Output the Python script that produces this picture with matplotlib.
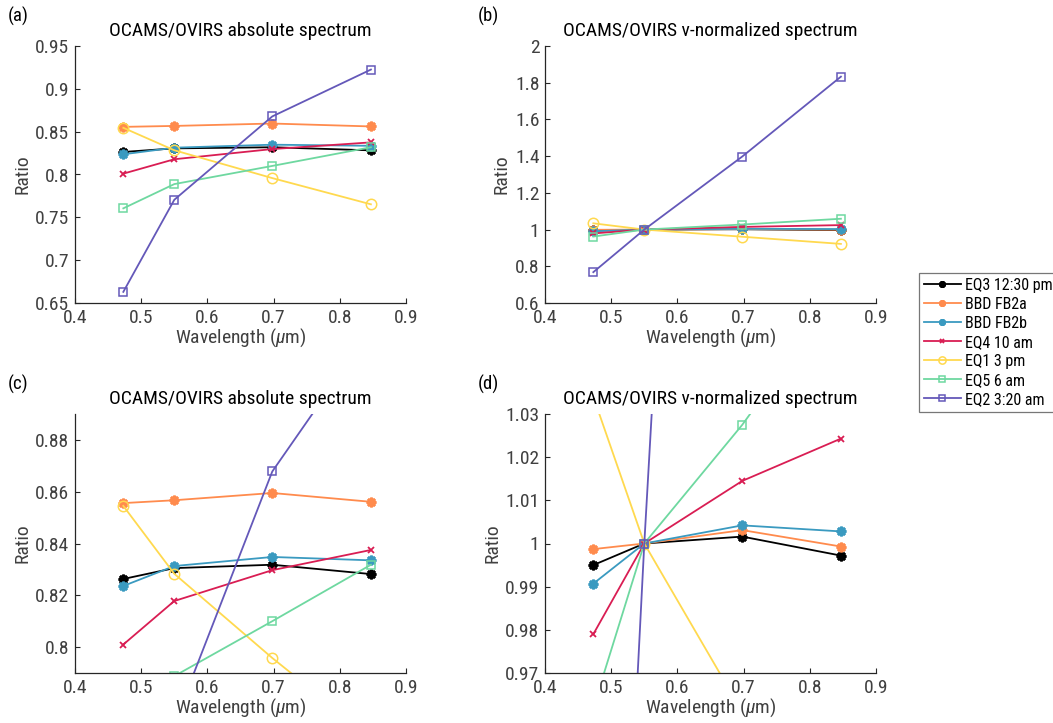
import matplotlib
matplotlib.use("Agg")
import matplotlib.pyplot as plt
from matplotlib import font_manager

# Narrow sans family for all text, with fallbacks
available = set(font_manager.get_font_names())
family = [f for f in ["Roboto Condensed", "Archivo Narrow", "Liberation Sans Narrow", "Roboto"]
          if f in available] + ["DejaVu Sans"]
plt.rcParams["font.family"] = family
plt.rcParams["mathtext.fontset"] = "custom"
plt.rcParams["mathtext.it"] = family[0] + ":italic"
plt.rcParams["mathtext.rm"] = family[0]

# MapCam filter centre wavelengths (um)
wavelength = [0.473, 0.550, 0.698, 0.847]

series_names = ["EQ3 12:30 pm", "BBD FB2a", "BBD FB2b", "EQ4 10 am",
                "EQ1 3 pm", "EQ5 6 am", "EQ2 3:20 am"]

# OCAMS/OVIRS absolute ratio
abs_eq3 = [0.8263, 0.8305, 0.8318, 0.8282]
abs_fb2a = [0.8556, 0.8567, 0.8595, 0.8561]
abs_fb2b = [0.8236, 0.8313, 0.8348, 0.8335]
abs_eq4 = [0.8010, 0.8178, 0.8297, 0.8375]
abs_eq1 = [0.8545, 0.8283, 0.7958, 0.7652]
abs_eq5 = [0.7605, 0.7888, 0.8100, 0.8318]
abs_eq2 = [0.6630, 0.7705, 0.8678, 0.9225]

# OCAMS/OVIRS ratio normalized at v band
norm_eq3 = [0.9950, 1.0, 1.0016, 0.9972]
norm_fb2a = [0.9987, 1.0, 1.0031, 0.9993]
norm_fb2b = [0.9907, 1.0, 1.0042, 1.0028]
norm_eq4 = [0.9790, 1.0, 1.0145, 1.0243]
norm_eq1 = [1.0340, 1.0, 0.9610, 0.9220]
norm_eq5 = [0.9620, 1.0, 1.0275, 1.0590]
norm_eq2 = [0.7680, 1.0, 1.3980, 1.8330]

abs_data = [abs_eq3, abs_fb2a, abs_fb2b, abs_eq4, abs_eq1, abs_eq5, abs_eq2]
norm_data = [norm_eq3, norm_fb2a, norm_fb2b, norm_eq4, norm_eq1, norm_eq5, norm_eq2]

colors = ["#000000", "#FF8B4D", "#3A9AC0", "#D91D53", "#FFD94F", "#6ED8A0", "#6458B9"]
asterisk = (8, 2, 0)
styles = [
    dict(marker=asterisk, ms=7, mew=1.9, mfc="none"),
    dict(marker=asterisk, ms=7, mew=1.9, mfc="none"),
    dict(marker=asterisk, ms=7, mew=1.9, mfc="none"),
    dict(marker="x", ms=5, mew=1.3, mfc="none"),
    dict(marker="o", ms=7.5, mew=1.1, mfc="none"),
    dict(marker="s", ms=6, mew=1.1, mfc="none"),
    dict(marker="s", ms=6, mew=1.1, mfc="none"),
]

W, H = 1053, 723
fig = plt.figure(figsize=(W / 100, H / 100), dpi=100)


def add_axes(left, top, right, bottom):
    return fig.add_axes([left / W, 1 - bottom / H, (right - left) / W, (bottom - top) / H])


axis_color = "#262626"
tick_color = "#404040"

panels = [
    ("(a)", "OCAMS/OVIRS absolute spectrum", abs_data, (0.65, 0.95), [0.65, 0.7, 0.75, 0.8, 0.85, 0.9, 0.95],
     ["0.65", "0.7", "0.75", "0.8", "0.85", "0.9", "0.95"], (75, 46, 406, 303)),
    ("(b)", "OCAMS/OVIRS v-normalized spectrum", norm_data, (0.6, 2.0), [0.6, 0.8, 1.0, 1.2, 1.4, 1.6, 1.8, 2.0],
     ["0.6", "0.8", "1", "1.2", "1.4", "1.6", "1.8", "2"], (545, 46, 876, 303)),
    ("(c)", "OCAMS/OVIRS absolute spectrum", abs_data, (0.79, 0.89), [0.8, 0.82, 0.84, 0.86, 0.88],
     ["0.8", "0.82", "0.84", "0.86", "0.88"], (75, 414, 406, 673)),
    ("(d)", "OCAMS/OVIRS v-normalized spectrum", norm_data, (0.97, 1.03), [0.97, 0.98, 0.99, 1.0, 1.01, 1.02, 1.03],
     ["0.97", "0.98", "0.99", "1", "1.01", "1.02", "1.03"], (545, 414, 876, 673)),
]

handles = []
for label, title, data, ylim, yticks, yticklabels, box in panels:
    ax = add_axes(*box)
    for vals, col, st, name in zip(data, colors, styles, series_names):
        ln, = ax.plot(wavelength, vals, color=col, lw=1.3, mec=col, label=name, **st)
        if label == "(a)":
            handles.append(ln)
    ax.set_xlim(0.4, 0.9)
    ax.set_ylim(*ylim)
    ax.set_xticks([0.4, 0.5, 0.6, 0.7, 0.8, 0.9])
    ax.set_xticklabels(["0.4", "0.5", "0.6", "0.7", "0.8", "0.9"])
    ax.set_yticks(yticks)
    ax.set_yticklabels(yticklabels)
    for s in ("top", "right"):
        ax.spines[s].set_visible(False)
    for s in ("left", "bottom"):
        ax.spines[s].set_color(axis_color)
        ax.spines[s].set_linewidth(0.9)
    ax.tick_params(direction="in", length=3.5, width=0.8, color=axis_color,
                   labelcolor=tick_color, labelsize=14, pad=4)
    ax.set_title(title, fontsize=14, color="black", pad=7)
    ax.set_ylabel("Ratio", fontsize=14, color=tick_color, labelpad=3)
    ax.set_xlabel(r"Wavelength ($\mu$m)", fontsize=14, color=tick_color, labelpad=0)
    fig.text((box[0] - 67) / W, 1 - 16 / H if label in ("(a)", "(b)") else 1 - 384 / H,
             label, fontsize=13.5, color="black", ha="left", va="center")

leg = fig.legend(handles=handles, loc="upper left", bbox_to_anchor=(919 / W, 1 - 273 / H),
                 frameon=True, fancybox=False, edgecolor="#555555", fontsize=11.5,
                 handlelength=2.3, handletextpad=0.3, borderpad=0.3, labelspacing=0.25,
                 borderaxespad=0, markerscale=0.7)
leg.get_frame().set_linewidth(0.9)

fig.savefig("out.png", dpi=100, facecolor="white")
